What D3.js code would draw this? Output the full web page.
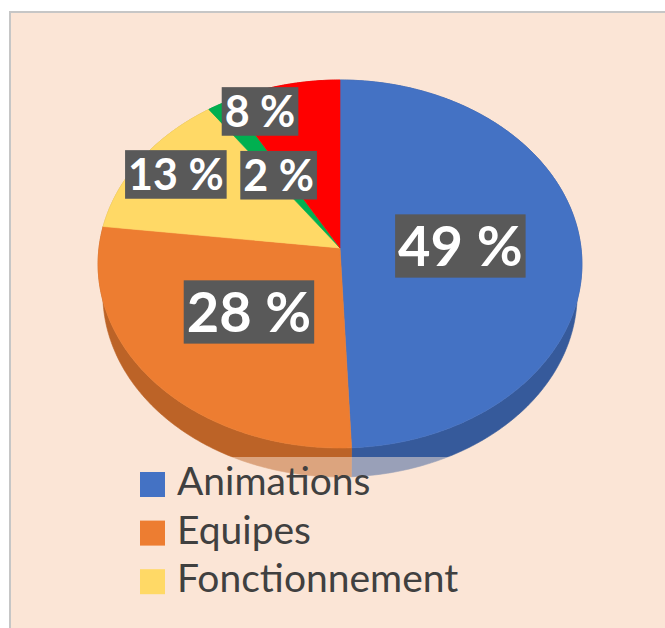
<!DOCTYPE html>
<html>
<head>
<meta charset="utf-8">
<script src="https://cdn.jsdelivr.net/npm/d3@7"></script>
<style>
  body { margin: 0; background: #fff; }
  svg { display: block; }
</style>
</head>
<body>
<div id="chart-area"></div>
<script>
// Data
const categories = ['Animations', 'Equipes', 'Fonctionnement', 'Catégorie 4', 'Catégorie 5'];
const values = [49.3, 27.6, 13.2, 1.7, 8.2];
const colors = ['#4472C4', '#ED7D31', '#FFD966', '#00B050', '#FF0000'];
const legendShown = 3; // only the first three entries fit in the legend box

const W = 665, H = 628;
const svg = d3.select('#chart-area')
    .append('svg')
    .attr('width', W)
    .attr('height', H);

// Chart area background
svg.append('rect')
    .attr('x', 10).attr('y', 12)
    .attr('width', 700).attr('height', 700)
    .attr('fill', '#FBE5D6')
    .attr('stroke', '#C6C6C6')
    .attr('stroke-width', 2);

// 3D perspective projection of the pie disc (unit radius)
const cam = { cx: 340, cy: 248, F: 1808.7, D: 7.505, phi: Math.asin(0.7577) };
const thick = 0.197;
function project(theta, r, hgt) {
    const X = r * Math.sin(theta);
    const Yf = r * Math.cos(theta);
    const sp = Math.sin(cam.phi), cp = Math.cos(cam.phi);
    const v = Yf * sp + hgt * cp;
    const z = cam.D + Yf * cp - hgt * sp;
    return [cam.cx + cam.F * X / z, cam.cy - cam.F * v / z];
}

const pie = d3.pie().sort(null).value((d) => d);
const arcs = pie(values);
const line = d3.line();

function arcPoints(a0, a1, hgt) {
    const n = Math.max(2, Math.ceil(Math.abs(a1 - a0) / 0.01));
    const pts = [];
    for (let i = 0; i <= n; i++) {
        pts.push(project(a0 + (a1 - a0) * i / n, 1, hgt));
    }
    return pts;
}

const g = svg.append('g');

// Walls (outer side)
g.selectAll('path.wall')
    .data(arcs)
    .enter()
    .append('path')
    .attr('class', 'wall')
    .attr('d', (d) => {
        const top = arcPoints(d.startAngle, d.endAngle, 0);
        const bot = arcPoints(d.endAngle, d.startAngle, -thick);
        return line(top.concat(bot)) + 'Z';
    })
    .attr('fill', (d, i) => d3.color(colors[i]).darker(0.65))
    .attr('stroke', (d, i) => d3.color(colors[i]).darker(0.65))
    .attr('stroke-width', 0.6);

// Top faces
g.selectAll('path.top')
    .data(arcs)
    .enter()
    .append('path')
    .attr('class', 'top')
    .attr('d', (d) => {
        const pts = [project(0, 0, 0)].concat(arcPoints(d.startAngle, d.endAngle, 0));
        return line(pts) + 'Z';
    })
    .attr('fill', (d, i) => colors[i])
    .attr('stroke', (d, i) => colors[i])
    .attr('stroke-width', 0.6);

// Legend box (semi transparent) and entries
const legend = svg.append('g');
legend.append('rect')
    .attr('x', 128).attr('y', 457)
    .attr('width', 352).attr('height', 150)
    .attr('fill', '#FBE5D6')
    .attr('fill-opacity', 0.5);

const items = legend.selectAll('g.item')
    .data(categories.slice(0, legendShown))
    .enter()
    .append('g')
    .attr('class', 'item')
    .attr('transform', (d, i) => 'translate(140, ' + (472 + i * 48.6) + ')');
items.append('rect')
    .attr('width', 25).attr('height', 25)
    .attr('fill', (d, i) => colors[i]);
items.append('text')
    .attr('x', 37).attr('y', 23)
    .attr('font-family', 'Lato, sans-serif')
    .attr('font-size', '39px')
    .attr('fill', '#404040')
    .text((d) => d);

// Data labels
const labelPlace = [
    { r: 0.5, da: 0, fs: 56 },
    { r: 0.5, da: 0, fs: 56 },
    { r: 0.82, da: 0, fs: 43 },
    { r: 0.49, da: 0, fs: 43 },
    { r: 0.875, da: -0.16, fs: 43 }
];
const total = d3.sum(values);
const labels = svg.append('g');
arcs.forEach((d, i) => {
    const p = labelPlace[i];
    const mid = (d.startAngle + d.endAngle) / 2 + p.da;
    const [lx, ly] = project(mid, p.r, 0);
    const lg = labels.append('g');
    const bg = lg.append('rect').attr('fill', '#595959');
    const t = lg.append('text')
        .attr('x', lx)
        .attr('y', ly + p.fs * 0.36)
        .attr('text-anchor', 'middle')
        .attr('font-family', 'Lato, sans-serif')
        .attr('font-weight', 'bold')
        .attr('font-size', p.fs + 'px')
        .attr('fill', '#fff')
        .text(Math.round(d.data / total * 100) + ' %');
    const bw = t.node().getBBox().width + 6;
    const bh = p.fs * 1.13;
    bg.attr('x', lx - bw / 2).attr('y', ly - bh / 2)
        .attr('width', bw).attr('height', bh);
});
</script>
</body>
</html>
